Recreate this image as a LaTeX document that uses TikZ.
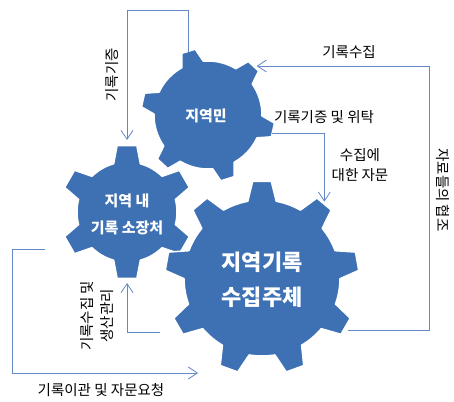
\documentclass[tikz,border=0pt]{standalone}
\usepackage{fontspec}
\setmainfont{Noto Sans CJK KR}
\usetikzlibrary{arrows.meta,calc}

% centre, teeth, inner radius, outer radius, first tooth, half base, half tip
\newcommand{\cogwheel}[7]{%
  \filldraw[gear_body] ($(#1)+({#5-#6}:#3)$)
    \foreach \k in {1,...,#2}{
      -- ($(#1)+({#5+(\k-1)*360/#2-#7}:#4)$)
      -- ($(#1)+({#5+(\k-1)*360/#2+#7}:#4)$)
      -- ($(#1)+({#5+(\k-1)*360/#2+#6}:#3)$)
      arc[start angle={#5+(\k-1)*360/#2+#6}, end angle={#5+\k*360/#2-#6}, radius=#3]
    } -- cycle;
}

\begin{document}
\begin{tikzpicture}[x=1pt,y=1pt,
  gear_body/.style={fill=reg_gear,draw=white,line width=1.5pt,line join=round},
  gear_text/.style={text=white,align=center,font=\bfseries\fontsize{15}{27}\selectfont},
  label_text/.style={text=black,align=center,inner sep=1pt,font=\fontsize{14.5}{20}\selectfont},
  flow/.style={draw=reg_line,line width=0.8pt,-{Straight Barb[length=9pt,width=12pt]}}]
\definecolor{reg_gear}{RGB}{61,113,180}
\definecolor{reg_line}{RGB}{100,136,196}
\useasboundingbox (0,0) rectangle (454,401);

\coordinate (citizen_c) at (208,286);
\coordinate (holder_c) at (127,189);
\coordinate (collector_c) at (262,123);

\cogwheel{citizen_c}{6}{54}{67}{107}{12}{6}
\cogwheel{holder_c}{6}{50}{67}{90}{15.5}{8.5}
\cogwheel{collector_c}{9}{78}{97}{90}{10.5}{5.5}

\node[gear_text] (citizen) at (206,285) {지역민};
\node[gear_text] (holder) at (127,187) {지역 내\\기록 소장처};
\node[gear_text,font=\bfseries\fontsize{22}{35}\selectfont] (collector) at (262,121) {지역기록\\수집주체};

% ends of the connectors
\coordinate (citizen_n) at ($(citizen_c)+(107:66)$);
\coordinate (citizen_ne) at ($(citizen_c)+(47:67)$);
\coordinate (citizen_e) at ($(citizen_c)+(-16:67)$);
\coordinate (holder_n) at ($(holder_c)+(90:67)$);
\coordinate (holder_s) at ($(holder_c)+(-90:67)$);
\coordinate (holder_sw) at (45,152);
\coordinate (collector_ne) at ($(collector_c)+(50:97)$);
\coordinate (collector_se) at (348,71);
\coordinate (collector_w) at (160,69);
\coordinate (handover_end) at (198,28);

\draw[flow,shorten >=5pt] (citizen_n) -- ++(0,41) -| (holder_n);
\draw[flow,shorten >=3pt] (collector_se) -- ++(81,0) |- (citizen_ne);
\draw[flow,shorten >=2pt] (citizen_e) -| (collector_ne);
\draw[flow] (holder_sw) -- ++(-33,0) |- (handover_end);
\draw[flow,shorten >=4pt] (collector_w) -| (holder_s);

\node[label_text,rotate=90] (gift_lbl) at (112,326) {기록기증};
\node[label_text] (collect_lbl) at (349,349) {기록수집};
\node[label_text,rotate=-90] (coop_lbl) at (443,211) {자료들의 협조};
\node[label_text] (donate_lbl) at (324,284) {기록기증 및 위탁};
\node[label_text] (advice_lbl) at (360,236) {수집에\\대한 자문};
\node[label_text] (transfer_lbl) at (101,11) {기록이관 및 자문요청};
\node[label_text,rotate=90] (manage_lbl) at (97,85) {기록수집 및\\생산관리};
\end{tikzpicture}
\end{document}
